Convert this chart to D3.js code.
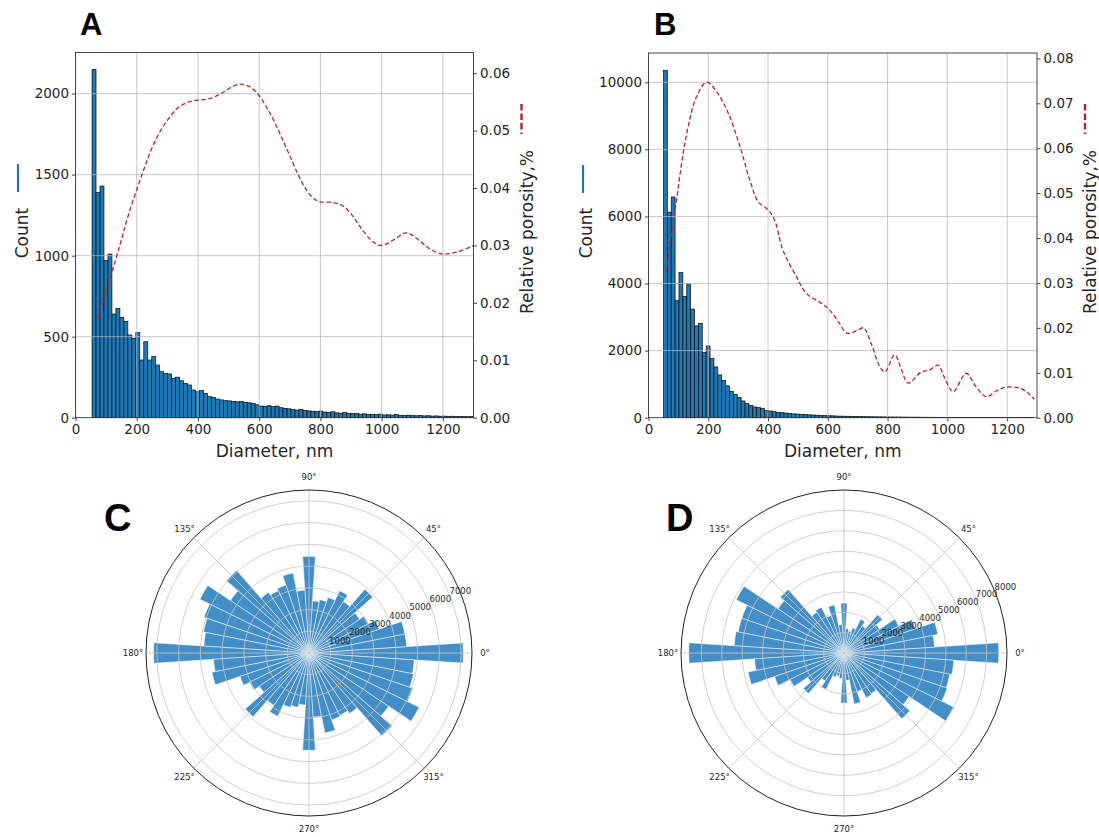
<!DOCTYPE html>
<html>
<head>
<meta charset="utf-8">
<script src="https://cdn.jsdelivr.net/npm/d3@7"></script>
<style>
  body { margin: 0; background: #fff; }
  svg { display: block; }
  text { font-family: "DejaVu Sans", sans-serif; fill: #262626; }
  .panel-letter { font-family: "Liberation Sans", Arial, sans-serif; font-weight: bold; fill: #000; }
</style>
</head>
<body>
<svg id="fig" width="1099" height="837"></svg>
<script>
// ---------- pore size histograms (nm) ----------
const binWidth = 13;
const binStartA = 54;
const countsA = [2150, 1390, 1430, 970, 1010, 640, 675, 620, 595, 510, 490, 525, 356, 469, 356, 377,
  325, 284, 274, 270, 243, 250, 228, 212, 202, 171, 160, 167, 150, 130, 125, 115, 110, 105, 104, 100,
  98, 101, 95, 92, 88, 80, 72, 70, 74, 68, 72, 62, 58, 55, 50, 47, 52, 44, 42, 40, 38, 41, 35, 33,
  37, 30, 28, 32, 26, 25, 27, 22, 24, 20, 21, 19, 22, 17, 18, 16, 19, 15, 14, 16, 13, 12, 14, 11,
  12, 10, 11, 9, 10, 8, 9, 7, 8, 7, 6, 7];
const binStartB = 50;
const countsB = [10350, 6130, 6580, 3490, 4335, 3620, 3990, 3240, 2740, 2810, 1945, 2140, 1765, 1515,
  1275, 1115, 950, 780, 700, 600, 500, 420, 370, 320, 300, 280, 220, 200, 180, 160, 150, 140, 125,
  115, 110, 100, 92, 85, 80, 75, 68, 62, 58, 55, 50, 46, 44, 42, 38, 36, 34, 32, 30, 28, 27, 25, 24,
  22, 21, 20, 19, 18, 17, 16, 15, 15, 14, 13, 13, 12, 12, 11, 11, 10, 10, 9, 9, 9, 8, 8, 8, 7, 7,
  7, 6, 6, 6, 5, 5, 5, 5, 4, 4, 4, 4];

// relative porosity curves: [diameter nm, fraction]
const porosityA = [[73.6, 0.0173], [100, 0.022], [127.7, 0.0269], [150, 0.031], [171, 0.035],
  [219, 0.0426], [250, 0.047], [279, 0.0501], [310, 0.0525], [333, 0.0539], [365, 0.0549],
  [398, 0.0553], [441, 0.0556], [480, 0.0566], [517, 0.0578], [540, 0.0581], [570, 0.0576],
  [598, 0.0562], [625, 0.054], [652, 0.0513], [680, 0.048], [706, 0.0449], [730, 0.042],
  [754, 0.0397], [780, 0.0381], [800, 0.0376], [840, 0.0375], [870, 0.037], [900, 0.0355],
  [940, 0.0325], [975, 0.0305], [1000, 0.0300], [1040, 0.031], [1080, 0.0322], [1120, 0.031],
  [1160, 0.0293], [1200, 0.0285], [1250, 0.0289], [1300, 0.0300]];
const porosityB = [[59, 0.0325], [89, 0.0463], [128, 0.0633], [161, 0.0715], [195, 0.0747],
  [228, 0.0726], [267, 0.0678], [306, 0.0604], [339, 0.0529], [367, 0.0481], [400, 0.0463],
  [422, 0.0440], [450, 0.0373], [495, 0.0314], [528, 0.0277], [578, 0.0255], [606, 0.0240],
  [639, 0.0210], [665, 0.0188], [700, 0.0195], [720, 0.0200], [745, 0.0165], [774, 0.0114],
  [791, 0.0102], [824, 0.0140], [845, 0.0110], [869, 0.0077], [913, 0.0102], [940, 0.0106],
  [969, 0.0117], [990, 0.0090], [1019, 0.0058], [1063, 0.0099], [1095, 0.0070], [1130, 0.0047],
  [1165, 0.0060], [1197, 0.0068], [1241, 0.0066], [1270, 0.0055], [1291, 0.0041]];

const diameterTicks = [0, 200, 400, 600, 800, 1000, 1200];
const countTicksA = [0, 500, 1000, 1500, 2000];
const countTicksB = [0, 2000, 4000, 6000, 8000, 10000];
const porosityTicksA = [0, 0.01, 0.02, 0.03, 0.04, 0.05, 0.06];
const porosityTicksB = [0, 0.01, 0.02, 0.03, 0.04, 0.05, 0.06, 0.07, 0.08];

// ---------- orientation roses (48 sectors of 7.5°, starting at 0°) ----------
const sectorStep = 7.5;
const orientC = [7100, 4500, 4500, 3400, 3050, 2800, 3900, 2850, 3200, 2700, 2500, 2400,
  4450, 2900, 3750, 3300, 3200, 3350, 5050, 4350, 5600, 5100, 4950, 4850,
  7150, 4400, 4550, 3350, 3050, 2750, 3900, 2900, 3250, 2650, 2550, 2400,
  4480, 2950, 3750, 3250, 3200, 3350, 5070, 4400, 5650, 5050, 4900, 4850];
const orientD = [7600, 4450, 4700, 3700, 3000, 2100, 2500, 1600, 1850, 1300, 1100, 1200,
  2450, 1400, 2400, 1950, 2500, 2400, 4150, 3900, 5900, 5300, 5300, 5400,
  7620, 4400, 4800, 3600, 2950, 2150, 2650, 1650, 2000, 1250, 1150, 1250,
  2460, 1350, 2550, 2000, 2450, 2400, 4300, 3850, 6000, 5350, 5300, 5400];
const radialTicksC = [1000, 2000, 3000, 4000, 5000, 6000, 7000];
const radialTicksD = [1000, 2000, 3000, 4000, 5000, 6000, 7000, 8000];
const angleTicks = [0, 45, 90, 135, 180, 225, 270, 315];

const svg = d3.select("#fig");
const barBlue = "#1f77b4";
const roseBlue = "#448ec8";
const curveRed = "#b5262b";

function histogramPanel(cfg) {
  const g = svg.append("g");
  const x = d3.scaleLinear().domain([0, 1300]).range([cfg.left, cfg.right]);
  const y = d3.scaleLinear().domain([0, cfg.countMax]).range([cfg.bottom, cfg.top]);
  const y2 = d3.scaleLinear().domain([0, cfg.porMax]).range([cfg.bottom, cfg.top]);

  const clipId = "clip-" + cfg.id;
  svg.append("clipPath").attr("id", clipId).append("rect")
    .attr("x", cfg.left).attr("y", cfg.top)
    .attr("width", cfg.right - cfg.left).attr("height", cfg.bottom - cfg.top);

  const plot = g.append("g").attr("clip-path", `url(#${clipId})`);
  plot.selectAll("rect.bar").data(cfg.counts).join("rect")
    .attr("class", "bar")
    .attr("x", (d, i) => x(cfg.binStart + i * binWidth))
    .attr("width", (d, i) => x(cfg.binStart + (i + 1) * binWidth) - x(cfg.binStart + i * binWidth))
    .attr("y", d => y(d))
    .attr("height", d => y(0) - y(d))
    .attr("fill", barBlue)
    .attr("stroke", "#0d0d0d")
    .attr("stroke-width", 0.7);

  // grid above the bars, below the curve
  plot.selectAll("line.vgrid").data(diameterTicks).join("line")
    .attr("x1", d => x(d)).attr("x2", d => x(d))
    .attr("y1", cfg.top).attr("y2", cfg.bottom)
    .attr("stroke", "#b8b8b8").attr("stroke-width", 0.9).attr("opacity", 0.85);
  plot.selectAll("line.hgrid").data(cfg.countTicks.filter(d => d > 0)).join("line")
    .attr("x1", cfg.left).attr("x2", cfg.right)
    .attr("y1", d => y(d)).attr("y2", d => y(d))
    .attr("stroke", "#b8b8b8").attr("stroke-width", 0.9).attr("opacity", 0.85);

  const line = d3.line().x(d => x(d[0])).y(d => y2(d[1])).curve(d3.curveCatmullRom.alpha(0.5));
  plot.append("path").datum(cfg.porosity)
    .attr("d", line)
    .attr("fill", "none")
    .attr("stroke", curveRed)
    .attr("stroke-width", 1.3)
    .attr("stroke-dasharray", "4.5,2.5");

  // frame
  g.append("rect")
    .attr("x", cfg.left).attr("y", cfg.top)
    .attr("width", cfg.right - cfg.left).attr("height", cfg.bottom - cfg.top)
    .attr("fill", "none").attr("stroke", "#333").attr("stroke-width", 0.9);

  const styleAxis = sel => {
    sel.select(".domain").remove();
    sel.selectAll(".tick line").attr("stroke", "#333").attr("stroke-width", 0.9);
    sel.selectAll(".tick text").style("font-size", "13.5px").attr("fill", "#262626");
  };

  g.append("g").attr("transform", `translate(0,${cfg.bottom})`)
    .call(d3.axisBottom(x).tickValues(diameterTicks).tickFormat(d3.format("d")).tickSize(3.5).tickPadding(3))
    .call(styleAxis);
  g.append("g").attr("transform", `translate(${cfg.left},0)`)
    .call(d3.axisLeft(y).tickValues(cfg.countTicks).tickFormat(d3.format("d")).tickSize(3.5).tickPadding(3))
    .call(styleAxis);
  g.append("g").attr("transform", `translate(${cfg.right},0)`)
    .call(d3.axisRight(y2).tickValues(cfg.porTicks).tickFormat(d3.format(".2f")).tickSize(3.5).tickPadding(3))
    .call(styleAxis);

  g.append("text")
    .attr("x", (cfg.left + cfg.right) / 2).attr("y", cfg.bottom + 39)
    .attr("text-anchor", "middle").style("font-size", "17px")
    .text("Diameter, nm");

  g.append("text")
    .attr("transform", `translate(${cfg.countLabelX},${cfg.countLabelY}) rotate(-90)`)
    .attr("text-anchor", "middle").style("font-size", "17px")
    .text("Count");
  g.append("line")
    .attr("x1", cfg.countMarkX).attr("x2", cfg.countMarkX)
    .attr("y1", cfg.countMarkY - 14).attr("y2", cfg.countMarkY + 14)
    .attr("stroke", barBlue).attr("stroke-width", 2.2);

  g.append("text")
    .attr("transform", `translate(${cfg.porLabelX},${cfg.porLabelY}) rotate(-90)`)
    .attr("text-anchor", "middle").style("font-size", "17px")
    .text("Relative porosity,%");
  g.append("line")
    .attr("x1", cfg.porMarkX).attr("x2", cfg.porMarkX)
    .attr("y1", cfg.porMarkY - 15).attr("y2", cfg.porMarkY + 15)
    .attr("stroke", curveRed).attr("stroke-width", 2.4)
    .attr("stroke-dasharray", "6.5,3");

  svg.append("text").attr("class", "panel-letter")
    .attr("x", cfg.letterX).attr("y", cfg.letterY)
    .style("font-size", "31px").text(cfg.letter);
}

function rosePanel(cfg) {
  const g = svg.append("g").attr("transform", `translate(${cfg.cx},${cfg.cy})`);
  const r = d3.scaleLinear().domain([0, cfg.rMax]).range([0, cfg.R]);
  const toRad = deg => deg * Math.PI / 180;
  const half = sectorStep / 2;

  // d3.arc measures angles clockwise from 12 o'clock; the rose uses counter-clockwise from east
  const arc = d3.arc()
    .innerRadius(0)
    .outerRadius(d => r(d.v))
    .startAngle(d => toRad(90 - (d.a + half)))
    .endAngle(d => toRad(90 - (d.a - half)));

  const sectors = cfg.values.map((v, i) => ({ a: i * sectorStep, v }));
  g.selectAll("path.sector").data(sectors).join("path")
    .attr("class", "sector")
    .attr("d", arc)
    .attr("fill", roseBlue)
    .attr("stroke", "#ffffff")
    .attr("stroke-width", 0.6)
    .attr("stroke-opacity", 0.8);

  g.selectAll("circle.rgrid").data(cfg.radialTicks.filter(t => t < cfg.rMax)).join("circle")
    .attr("r", d => r(d))
    .attr("fill", "none").attr("stroke", "#c4c4c4").attr("stroke-width", 0.8);
  g.selectAll("line.agrid").data(angleTicks).join("line")
    .attr("x1", 0).attr("y1", 0)
    .attr("x2", d => cfg.R * Math.cos(toRad(d)))
    .attr("y2", d => -cfg.R * Math.sin(toRad(d)))
    .attr("stroke", "#c4c4c4").attr("stroke-width", 0.8);
  g.append("circle").attr("r", cfg.R)
    .attr("fill", "none").attr("stroke", "#222").attr("stroke-width", 1);

  const labR = cfg.R + 13;
  g.selectAll("text.alab").data(angleTicks).join("text")
    .attr("x", d => labR * Math.cos(toRad(d)))
    .attr("y", d => -labR * Math.sin(toRad(d)))
    .attr("text-anchor", "middle").attr("dominant-baseline", "central")
    .style("font-size", "8.5px").attr("fill", "#333")
    .text(d => d + "°");

  const labAngle = toRad(22.5);
  g.selectAll("text.rlab").data(cfg.radialTicks).join("text")
    .attr("x", d => r(d) * Math.cos(labAngle))
    .attr("y", d => -r(d) * Math.sin(labAngle) - 1)
    .attr("text-anchor", "start")
    .style("font-size", "8.5px").attr("fill", "#222")
    .text(d => d);

  svg.append("text").attr("class", "panel-letter")
    .attr("x", cfg.letterX).attr("y", cfg.letterY)
    .style("font-size", "38px").text(cfg.letter);
}

histogramPanel({
  id: "A", letter: "A", letterX: 80, letterY: 35,
  left: 75.5, right: 473.5, top: 52.5, bottom: 417.7,
  countMax: 2254, porMax: 0.0636,
  counts: countsA, binStart: binStartA, porosity: porosityA,
  countTicks: countTicksA, porTicks: porosityTicksA,
  countLabelX: 28, countLabelY: 233, countMarkX: 18, countMarkY: 178,
  porLabelX: 533, porLabelY: 232, porMarkX: 521.5, porMarkY: 119
});

histogramPanel({
  id: "B", letter: "B", letterX: 654, letterY: 35,
  left: 648.5, right: 1037, top: 53, bottom: 417.7,
  countMax: 10874, porMax: 0.0812,
  counts: countsB, binStart: binStartB, porosity: porosityB,
  countTicks: countTicksB, porTicks: porosityTicksB,
  countLabelX: 592, countLabelY: 233, countMarkX: 583, countMarkY: 179,
  porLabelX: 1096, porLabelY: 232, porMarkX: 1085, porMarkY: 119
});

rosePanel({
  letter: "C", letterX: 104, letterY: 531,
  cx: 309, cy: 653, R: 163, rMax: 7500,
  values: orientC, radialTicks: radialTicksC
});

rosePanel({
  letter: "D", letterX: 666, letterY: 531,
  cx: 844, cy: 653, R: 163, rMax: 8000,
  values: orientD, radialTicks: radialTicksD
});
</script>
</body>
</html>
